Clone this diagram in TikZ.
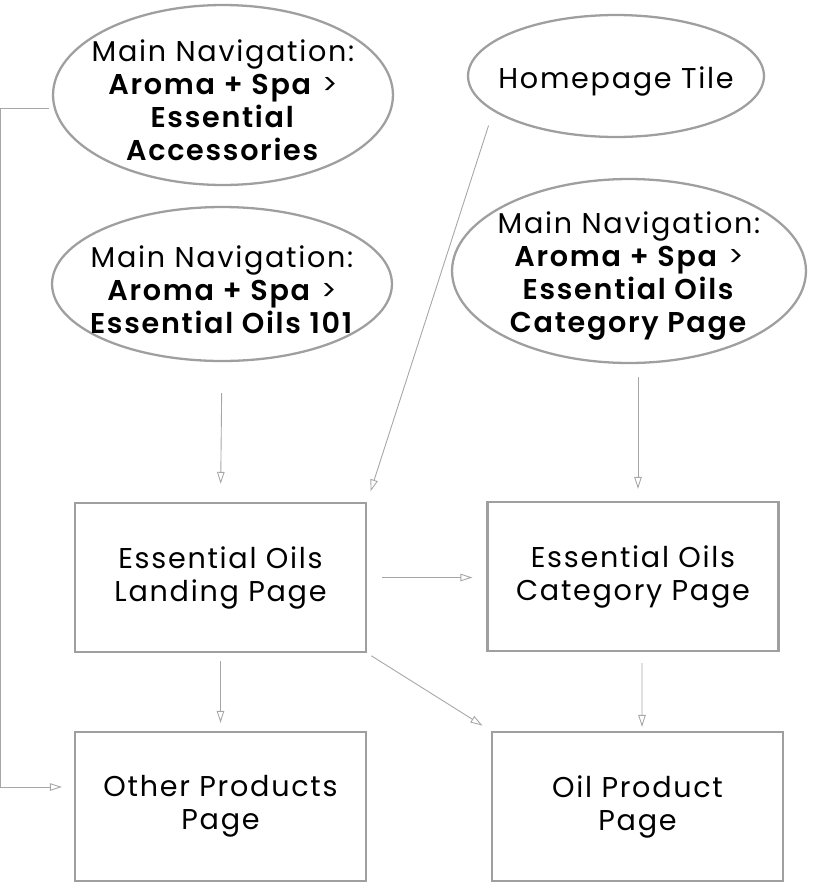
\documentclass[tikz,border=0pt]{standalone}
\usepackage{fontspec}
\setmainfont{Poppins}[LetterSpace=6, BoldFont={Poppins SemiBold}]
\usepackage{tikz}
\usetikzlibrary{arrows.meta,positioning,shapes.geometric,calc}

\begin{document}
\begin{tikzpicture}[
  x=0.02cm, y=-0.02cm,
  >={Triangle[open,length=2.4mm,width=1.5mm]},
  menutext/.style={inner sep=0pt, align=center, yshift=-3pt,
    font=\fontsize{16.3}{18.8}\selectfont},
  menu/.style={draw=gray!75, line width=1.3pt, ellipse, inner sep=0pt},
  page/.style={draw=gray!75, line width=1.3pt, inner sep=0pt, align=center,
    minimum width=5.82cm, minimum height=2.98cm,
    font=\fontsize{16.3}{18.8}\selectfont},
  link/.style={draw=gray!70, ->, line width=0.5pt}
]
  \useasboundingbox (0,0) rectangle (818,883);

  \node[menu, minimum width=6.8cm, minimum height=3.6cm,
    label={[menutext]center:{Main Navigation:\\\textbf{Aroma + Spa} >\\\textbf{Essential}\\\textbf{Accessories}}}]
    (accessories) at (223,95) {};
  \node[menu, minimum width=5.92cm, minimum height=2.44cm,
    label={[menutext]center:{Homepage Tile}}] (tile) at (616,76) {};
  \node[menu, minimum width=6.8cm, minimum height=3.08cm,
    label={[menutext]center:{Main Navigation:\\\textbf{Aroma + Spa} >\\\textbf{Essential Oils 101}}}]
    (oils101) at (222,284) {};
  \node[menu, minimum width=7.08cm, minimum height=3.68cm,
    label={[menutext]center:{Main Navigation:\\\textbf{Aroma + Spa} >\\\textbf{Essential Oils}\\\textbf{Category Page}}}]
    (catnav) at (629,271) {};

  \node[page] (landing) at (220.5,577.5) {Essential Oils\\Landing Page};
  \node[page] (category) at (633,576.5) {Essential Oils\\Category Page};
  \node[page] (other) at (220.5,806.5) {Other Products\\Page};
  \node[page] (product) at (637.5,806.5) {Oil Product\\Page};

  % arrows into the landing page
  \path[link, shorten <=0.62cm, shorten >=0.36cm] (oils101.south) -- (landing.north);
  \path[link, shorten <=0.3cm, shorten >=0.22cm] (tile.196) -- (landing.north east);
  \path[link, shorten <=0.26cm, shorten >=0.24cm] ($(catnav.south)+(9,0)$) -- ($(category.north)+(5,0)$);

  % page to page
  \path[link, shorten <=0.3cm, shorten >=0.28cm] (landing.east) -- (landing.east -| category.west);
  \path[link, shorten <=0.16cm, shorten >=0.16cm] (landing.south) -- (other.north);
  \path[link, shorten <=0.1cm, shorten >=0.2cm] (landing.south east) -- (product.north west);
  \path[link, shorten <=0.22cm, shorten >=0.08cm] ($(category.south)+(9,0)$) -- ($(product.north)+(4.5,0)$);

  % side route
  \path[link, shorten >=0.24cm] ($(accessories.west)+(-3,13)$) -- ++(-48,0) |- ($(other.west)+(0,-19.5)$);
\end{tikzpicture}
\end{document}
